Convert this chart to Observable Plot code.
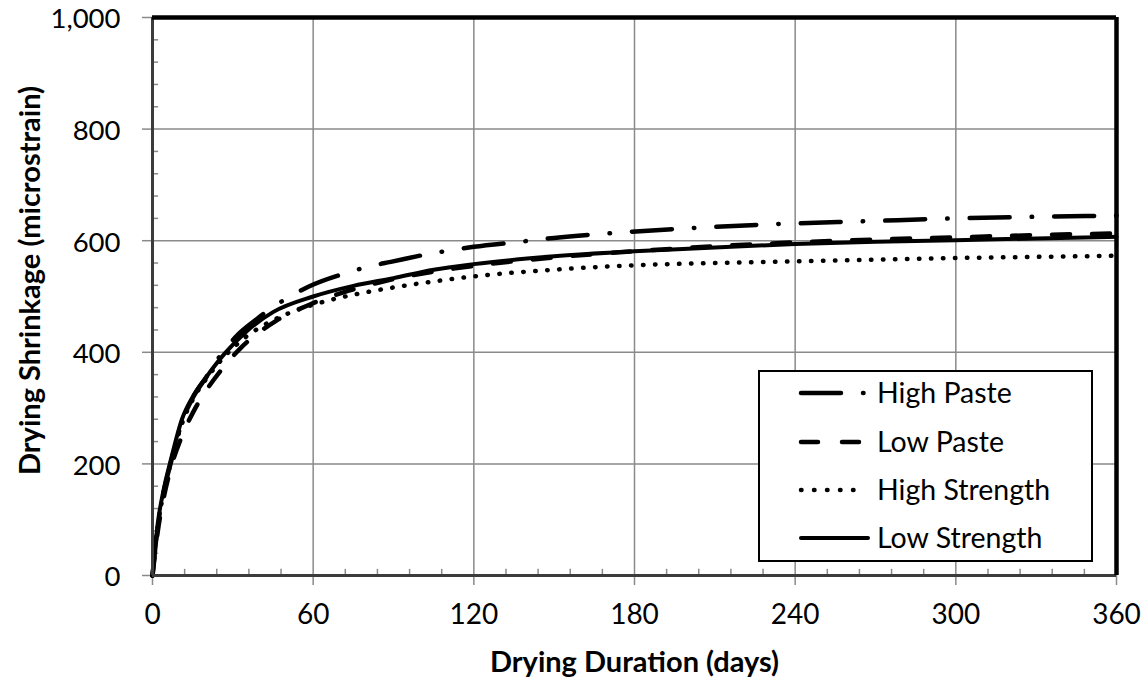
<!DOCTYPE html>
<html><head><meta charset="utf-8">
<script src="https://cdn.jsdelivr.net/npm/d3@7"></script>
<script src="https://cdn.jsdelivr.net/npm/@observablehq/plot@0.6"></script>
<style>
body{margin:0;background:#fff;}
#wrap{position:relative;width:1148px;height:680px;font-family:Lato,"Open Sans",sans-serif;}
#legend{position:absolute;left:758px;top:370px;width:331px;height:188px;border:2px solid #000;background:#fff;}
</style></head><body><div id="wrap"></div>
<script>
// ---- data ----
const xTicks = [0, 60, 120, 180, 240, 300, 360];
const yTicks = [0, 200, 400, 600, 800, 1000];
const xMinor = [12, 24, 36, 48, 72, 84, 96, 108, 132, 144, 156, 168, 192, 204, 216, 228, 252, 264, 276, 288, 312, 324, 336, 348];
const yMinor = [40, 80, 120, 160, 240, 280, 320, 360, 440, 480, 520, 560, 640, 680, 720, 760, 840, 880, 920, 960];
const seriesNames = ["High Paste", "Low Paste", "High Strength", "Low Strength"];
const xTitle = "Drying Duration (days)";
const yTitle = "Drying Shrinkage (microstrain)";

const highPasteDays = [0, 2, 4, 7, 11, 15, 20, 25, 32, 38, 44, 51, 58, 73, 81, 89, 104, 113, 120, 137, 150, 170, 203, 234, 267, 300, 332, 360];
const highPasteVals = [0, 90, 145, 205, 275, 318, 355, 392, 432, 456, 478, 499, 517, 543, 554, 562, 577, 584, 589, 598, 605, 613, 623, 630, 635, 640, 643, 645];

const lowPasteDays = [0, 2, 4, 7, 11, 16, 24, 33, 46, 59, 73, 88, 103, 120, 150, 180, 210, 240, 270, 300, 330, 360];
const lowPasteVals = [0, 80, 135, 195, 250, 300, 358, 408, 456, 486, 510, 529, 543, 555, 570, 581, 590, 597, 602, 606, 610, 613];

const highStrDays = [0, 2, 4, 7, 11, 15, 20, 27, 35, 44, 53, 65, 78, 91, 105, 120, 150, 180, 210, 240, 270, 300, 330, 360];
const highStrVals = [0, 90, 145, 205, 272, 315, 352, 393, 428, 455, 474, 492, 506, 517, 527, 536, 548, 556, 560, 563, 566, 569, 571, 573];

const lowStrDays = [0, 2, 4, 7, 11, 15, 20, 27, 35, 45, 60, 75, 90, 105, 120, 150, 180, 210, 240, 270, 300, 330, 360];
const lowStrVals = [0, 95, 150, 210, 280, 320, 355, 398, 437, 472, 500, 519, 533, 548, 558, 572, 581, 588, 594, 598, 601, 604, 607];

// ---- styles ----
const styles = [
  {dash: "40,22,0.5,22", w: 4.5},
  {dash: "18,22", w: 4.5},
  {dash: "0.5,11.5", w: 4.5},
  {dash: null, w: 4}
];
const toRows = (days, vals) => days.map((d, i) => ({x: d, y: vals[i]}));
const seriesData = [
  toRows(highPasteDays, highPasteVals),
  toRows(lowPasteDays, lowPasteVals),
  toRows(highStrDays, highStrVals),
  toRows(lowStrDays, lowStrVals)
];
const fmt = d3.format(",");
const FONT = "Lato, 'Open Sans', sans-serif";
const gridColor = "#8a8a8a";

const chart = Plot.plot({
  width: 1148, height: 680,
  marginLeft: 152, marginRight: 32, marginTop: 17, marginBottom: 105,
  style: {fontFamily: FONT, background: "#fff", color: "#000"},
  x: {domain: [0, 360], axis: null},
  y: {domain: [0, 1000], axis: null},
  marks: [
    Plot.gridX(xTicks, {stroke: gridColor, strokeOpacity: 1, strokeWidth: 1.5}),
    Plot.gridY(yTicks, {stroke: gridColor, strokeOpacity: 1, strokeWidth: 1.5}),
    Plot.ruleX(xMinor, {y1: 0, y2: 11, stroke: gridColor, strokeWidth: 1.5}),
    Plot.ruleY(yMinor, {x1: 0, x2: 2.3, stroke: gridColor, strokeWidth: 1.5}),
    Plot.axisX(xTicks, {tickSize: 10, text: null, stroke: gridColor, strokeWidth: 1.5, label: null}),
    Plot.axisY(yTicks, {tickSize: 10, text: null, stroke: gridColor, strokeWidth: 1.5, label: null}),
    Plot.text(xTicks, {x: d => d, text: d => fmt(d), frameAnchor: "bottom", lineAnchor: "middle", dy: 40, fontSize: 28}),
    Plot.text(yTicks, {y: d => d, text: d => fmt(d), frameAnchor: "left", textAnchor: "end", lineAnchor: "middle", dx: -32, dy: 2, fontSize: 27.5}),
    ...seriesData.map((data, i) => Plot.line(data, {
      x: "x", y: "y", curve: "monotone-x",
      stroke: "#000", strokeWidth: styles[i].w,
      strokeDasharray: styles[i].dash, strokeLinecap: "round", strokeLinejoin: "round"
    })),
    Plot.ruleY([0], {stroke: "#3c3c3c", strokeWidth: 3}),
    Plot.ruleX([0], {stroke: "#3c3c3c", strokeWidth: 3}),
    Plot.ruleY([1000], {stroke: "#000", strokeWidth: 4.5}),
    Plot.ruleX([360], {stroke: "#000", strokeWidth: 4.5}),
    Plot.text([xTitle], {frameAnchor: "bottom", lineAnchor: "middle", textAnchor: "middle", dy: 87, fontSize: 29, fontWeight: "bold", text: d => d}),
    Plot.text([yTitle], {frameAnchor: "left", lineAnchor: "middle", textAnchor: "middle", dx: -122, dy: -16, rotate: -90, fontSize: 29, fontWeight: "bold", text: d => d})
  ]
});
const wrap = document.getElementById("wrap");
wrap.appendChild(chart);

// ---- legend ----
const leg = document.createElement("div");
leg.id = "legend";
const ns = "http://www.w3.org/2000/svg";
const svg = document.createElementNS(ns, "svg");
svg.setAttribute("width", 331); svg.setAttribute("height", 188);
const rowsY = [21, 70, 118, 166];
seriesNames.forEach((name, i) => {
  const ln = document.createElementNS(ns, "line");
  ln.setAttribute("x1", 41); ln.setAttribute("x2", i === 3 ? 108 : 105);
  ln.setAttribute("y1", rowsY[i]); ln.setAttribute("y2", rowsY[i]);
  ln.setAttribute("stroke", "#000");
  ln.setAttribute("stroke-width", styles[i].w);
  ln.setAttribute("stroke-linecap", "round");
  if (i === 0) ln.setAttribute("stroke-dasharray", "40,22,0.5,40");
  if (i === 1) ln.setAttribute("stroke-dasharray", "17,24");
  if (i === 2) ln.setAttribute("stroke-dasharray", "0.5,12.5");
  svg.appendChild(ln);
  const t = document.createElementNS(ns, "text");
  t.setAttribute("x", 117); t.setAttribute("y", rowsY[i]);
  t.setAttribute("dy", "0.36em");
  t.setAttribute("font-size", 28.5);
  t.setAttribute("font-family", FONT);
  t.textContent = name;
  svg.appendChild(t);
});
leg.appendChild(svg);
wrap.appendChild(leg);
</script>
</body></html>
